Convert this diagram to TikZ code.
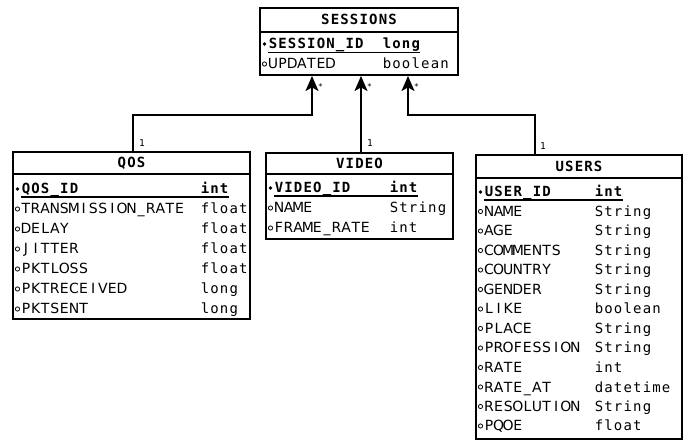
\documentclass[tikz,border=0pt]{standalone}
\usepackage{fontspec}
\setmainfont{DejaVu Sans}
\newfontfamily\monof{DejaVu Sans Mono}
\usetikzlibrary{arrows.meta}
\newlength\cellw \setlength\cellw{9.6pt}
\def\gridtext#1{\expandafter\gridloop#1\relax}
\def\gridloop#1{\ifx\relax#1\else\makebox[\cellw][c]{#1}\expandafter\gridloop\fi}
\tikzset{
  tbl/.style={draw, line width=1.8pt, inner sep=0pt, fill=white},
  sepline/.style={line width=1.8pt},
  nm/.style={anchor=base west, inner sep=0pt, font=\fontsize{14}{16}\selectfont},
  ty/.style={anchor=base west, inner sep=0pt, font=\monof\fontsize{14}{16}\selectfont},
  pk/.style={anchor=base west, inner sep=0pt, font=\monof\bfseries\fontsize{14}{16}\selectfont},
  ttl/.style={anchor=base, inner sep=0pt, font=\monof\bfseries\fontsize{14}{16}\selectfont},
  conn/.style={line width=1.8pt, -{Stealth[length=15pt,width=13pt,inset=3.5pt]}},
  mult/.style={anchor=base west, inner sep=0pt, font=\monof\fontsize{9.5}{9.5}\selectfont},
  star/.style={anchor=base west, inner sep=0pt, font=\monof\fontsize{8}{8}\selectfont},
  ring/.style={line width=0.8pt},
  uline/.style={line width=1.2pt},
}
\begin{document}
\begin{tikzpicture}[x=1pt,y=-1pt]
\useasboundingbox (0,0) rectangle (688,443);

% ---------- SESSIONS ----------
\node[tbl, minimum width=198pt, minimum height=67pt] (sessions) at (359,41.5) {};
\draw[sepline] (260,32) -- (458,32);
\node[ttl] (sttl) at (359,25) {\gridtext{SESSIONS}};
\fill (264.5,44) circle (1.8pt);
\node[pk] (spkn) at (268,49) {\gridtext{SESSION\_ID}};
\node[pk] (spkt) at (382,49) {\gridtext{long}};
\draw[uline] (268,52.5) -- (420,52.5);
\draw[ring] (264.5,64) circle (2.1pt);
\node[nm] (sn1) at (268,69) {\gridtext{UPDATED}};
\node[ty] (st1) at (382,69) {\gridtext{boolean}};

% ---------- QOS ----------
\node[tbl, minimum width=237pt, minimum height=167pt] (qos) at (131.5,235.5) {};
\draw[sepline] (13,174) -- (250,174);
\node[ttl] (qttl) at (131.5,168) {\gridtext{QOS}};
\fill (17.5,189) circle (1.8pt);
\node[pk] (qpkn) at (21,194) {\gridtext{QOS\_ID}};
\node[pk] (qpkt) at (200,194) {\gridtext{int}};
\draw[uline] (21,197) -- (228.5,197);
\foreach \n/\tp [count=\i] in {TRANSMISSION\_RATE/float, DELAY/float, JITTER/float, PKTLOSS/float, PKTRECEIVED/long, PKTSENT/long}{
  \draw[ring] (17.5,189+20*\i) circle (2.1pt);
  \node[nm] (qn\i) at (21,194+20*\i) {\gridtext{\n}};
  \node[ty] (qt\i) at (200,194+20*\i) {\gridtext{\tp}};
}

% ---------- VIDEO ----------
\node[tbl, minimum width=187pt, minimum height=86pt] (video) at (359.5,196) {};
\draw[sepline] (266,174) -- (453,174);
\node[ttl] (vttl) at (359.5,168.5) {\gridtext{VIDEO}};
\fill (270.5,188) circle (1.8pt);
\node[pk] (vpkn) at (274,193) {\gridtext{VIDEO\_ID}};
\node[pk] (vpkt) at (389,193) {\gridtext{int}};
\draw[uline] (274,196) -- (417.5,196);
\foreach \n/\tp [count=\i] in {NAME/String, FRAME\_RATE/int}{
  \draw[ring] (270.5,188+20*\i) circle (2.1pt);
  \node[nm] (vn\i) at (274,193+20*\i) {\gridtext{\n}};
  \node[ty] (vt\i) at (389,193+20*\i) {\gridtext{\tp}};
}

% ---------- USERS ----------
\node[tbl, minimum width=206pt, minimum height=284pt] (users) at (579,297) {};
\draw[sepline] (476,178) -- (682,178);
\node[ttl] (uttl) at (579,171.5) {\gridtext{USERS}};
\fill (480.5,192) circle (1.8pt);
\node[pk] (upkn) at (484,197) {\gridtext{USER\_ID}};
\node[pk] (upkt) at (594,197) {\gridtext{int}};
\draw[uline] (484,200) -- (623,200);
\foreach \n/\tp [count=\i] in {NAME/String, AGE/String, COMMENTS/String, COUNTRY/String, GENDER/String, LIKE/boolean, PLACE/String, PROFESSION/String, RATE/int, RATE\_AT/datetime, RESOLUTION/String, PQOE/float}{
  \draw[ring] (480.5,192+19.5*\i) circle (2.1pt);
  \node[nm] (un\i) at (484,197+19.5*\i) {\gridtext{\n}};
  \node[ty] (ut\i) at (594,197+19.5*\i) {\gridtext{\tp}};
}

% ---------- connectors ----------
\coordinate (s1) at (312,76);
\coordinate (s2) at (361,76);
\coordinate (s3) at (408,76);
\coordinate (qa) at (133,152);
\coordinate (va) at (361,153);
\coordinate (ua) at (535,155);
\coordinate (qm) at (133,115);
\coordinate (um) at (535,115);
\draw[conn] (qa) -- (qm) -| (s1);
\draw[conn] (va) -- (s2);
\draw[conn] (ua) -- (um) -| (s3);

\node[mult] (l1) at (139,147) {1};
\node[mult] (l2) at (367,147) {1};
\node[mult] (l3) at (540,150) {1};
\node[star] (k1) at (318,90) {*};
\node[star] (k2) at (367,90) {*};
\node[star] (k3) at (414,90) {*};
\end{tikzpicture}
\end{document}
